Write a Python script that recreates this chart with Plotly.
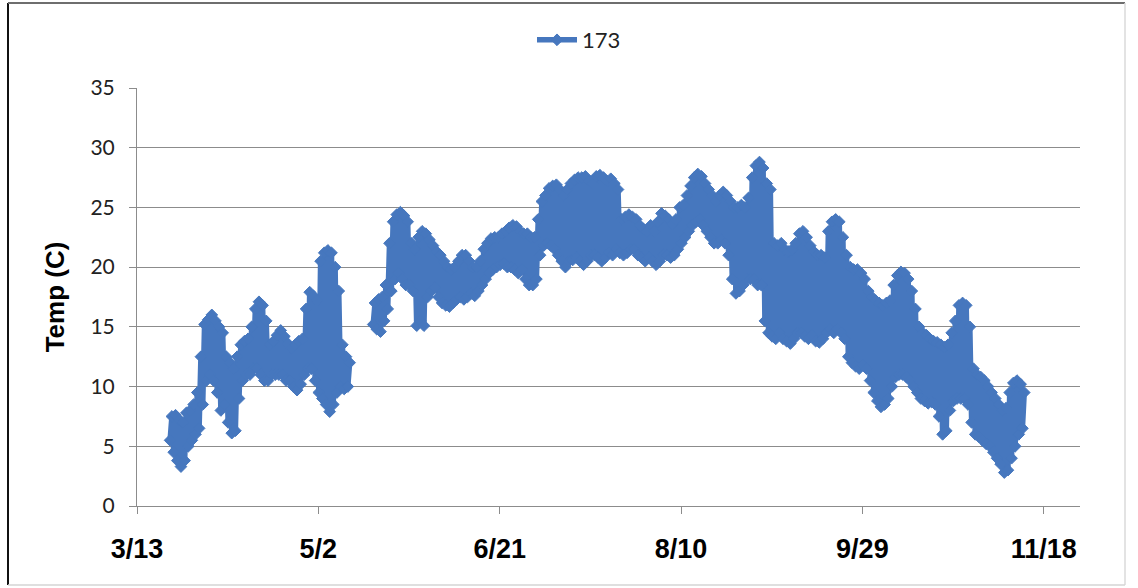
import plotly.graph_objects as go
from datetime import datetime, timedelta

# ---------------------------------------------------------------------------
# Station 173 water temperature: daily minimum / maximum readings (deg C)
# ---------------------------------------------------------------------------
season_start = datetime(2009, 3, 13)

# day numbers (days after 3/13) with recorded data; the logger was out 5/11-5/17
record_day = list(range(9, 59)) + list(range(65, 245))

daily_low = [
    5.5, 4.5, 3.8, 3.3, 3.8, 5.0, 5.5, 6.0, 6.5, 8.5,
    10.5, 11.0, 10.5, 9.5, 8.0, 8.5, 7.0, 6.1, 6.3, 9.0,
    10.5, 11.0, 11.0, 11.5, 11.5, 11.0, 10.5, 10.5, 11.0, 11.0,
    11.0, 11.0, 10.5, 10.5, 10.0, 9.7, 10.2, 11.0, 11.5, 11.5,
    10.5, 9.5, 9.0, 8.5, 7.9, 8.5, 9.5, 10.0, 9.8, 10.0,
    # second deployment
    15.2, 14.8, 14.6, 15.5, 16.5, 18.0, 19.0, 19.5, 19.0, 18.5,
    18.5, 18.0, 15.1, 15.5, 15.1, 17.5, 18.0, 18.3, 17.5, 17.0,
    16.8, 16.7, 17.0, 17.3, 17.5, 17.3, 17.5, 17.8, 17.6, 18.0,
    18.5, 19.0, 19.5, 19.8, 20.0, 20.2, 20.3, 20.0, 20.0, 19.8,
    19.5, 19.8, 19.0, 18.5, 18.5, 19.0, 21.0, 21.8, 22.0, 21.8,
    21.5, 21.0, 20.5, 20.0, 20.5, 20.6, 20.8, 20.5, 20.2, 20.5,
    21.0, 21.0, 20.8, 20.5, 20.8, 21.2, 21.0, 21.5, 21.2, 21.0,
    21.2, 21.5, 21.5, 21.0, 20.8, 20.5, 20.8, 20.5, 20.2, 20.5,
    21.0, 21.0, 20.8, 21.0, 21.5, 22.0, 22.5, 23.0, 23.5, 23.8,
    24.0, 23.5, 23.0, 22.5, 22.0, 22.0, 22.3, 22.0, 21.0, 19.0,
    17.8, 18.0, 18.5, 19.0, 19.0, 19.0, 18.5, 18.5, 15.5, 14.5,
    14.2, 14.0, 14.5, 14.0, 13.8, 13.6, 14.0, 14.5, 14.5, 14.2,
    14.0, 14.3, 13.8, 13.7, 14.0, 14.5, 14.8, 14.5, 14.8, 14.5,
    14.0, 12.5, 12.0, 11.7, 11.5, 11.8, 11.5, 10.5, 9.5, 8.8,
    8.3, 8.5, 9.0, 10.0, 10.8, 11.0, 11.0, 10.8, 10.5, 10.0,
    9.5, 9.0, 8.8, 8.6, 8.7, 8.5, 7.5, 6.0, 6.3, 8.0,
    8.8, 9.0, 9.0, 9.0, 8.5, 7.0, 6.0, 5.8, 5.5, 5.2,
    5.0, 4.5, 4.0, 3.5, 2.8, 3.0, 4.0, 5.0, 6.0, 6.5,
]

daily_high = [
    7.5, 7.6, 7.2, 7.0, 7.8, 8.0, 8.5, 9.5, 12.5, 15.2,
    15.6, 16.0, 15.5, 15.0, 14.5, 12.5, 12.0, 11.5, 12.5, 13.5,
    13.8, 14.0, 15.0, 16.5, 17.1, 16.8, 15.5, 13.5, 13.8, 14.3,
    14.7, 14.2, 13.6, 13.2, 13.5, 13.8, 14.0, 16.5, 17.9, 17.6,
    17.2, 20.5, 21.2, 21.4, 21.2, 20.0, 18.0, 13.5, 12.5, 12.0,
    # second deployment
    17.0, 17.3, 17.5, 18.5, 22.0, 23.8, 24.4, 24.6, 24.3, 23.8,
    22.0, 21.5, 22.5, 23.0, 22.8, 22.3, 21.8, 21.3, 21.0, 20.5,
    20.0, 19.8, 20.0, 20.5, 21.0, 21.0, 20.5, 20.0, 20.0, 20.5,
    21.5, 22.0, 22.4, 22.5, 22.5, 22.8, 23.0, 23.3, 23.5, 23.4,
    23.0, 22.8, 22.8, 22.5, 22.5, 24.0, 25.5, 26.0, 26.6, 26.8,
    26.9, 26.5, 26.0, 26.5, 27.0, 27.3, 27.5, 27.5, 27.6, 27.2,
    27.0, 27.6, 27.7, 27.5, 27.2, 27.4, 27.0, 26.5, 24.0, 24.2,
    24.4, 24.2, 24.0, 23.5, 23.2, 23.0, 23.5, 23.0, 23.8, 24.5,
    24.3, 24.0, 23.6, 24.0, 25.0, 25.2, 26.0, 26.8, 27.5, 27.8,
    27.6, 27.0, 26.5, 26.0, 25.5, 26.0, 26.3, 26.0, 25.5, 25.0,
    25.0, 25.2, 25.0, 25.8, 27.5, 28.5, 28.8, 28.3, 27.0, 26.5,
    22.0, 21.8, 22.0, 21.5, 21.3, 21.5, 22.0, 22.8, 23.0, 22.5,
    21.8, 21.3, 21.0, 21.0, 20.8, 23.0, 23.8, 24.0, 23.8, 22.5,
    21.0, 20.0, 19.8, 19.8, 19.5, 19.0, 18.0, 17.5, 17.2, 17.0,
    16.8, 17.0, 17.2, 18.5, 19.3, 19.6, 19.5, 19.0, 18.0, 16.5,
    15.0, 14.5, 14.3, 14.0, 13.8, 13.7, 13.5, 13.3, 13.5, 14.5,
    15.5, 16.8, 17.0, 16.8, 15.0, 11.5, 11.0, 10.8, 10.5, 10.0,
    9.5, 9.0, 8.5, 8.0, 8.2, 9.5, 10.3, 10.5, 10.2, 9.5,
]

tick_labels = ["3/13", "5/2", "6/21", "8/10", "9/29", "11/18"]
series_name = "173"

# ---------------------------------------------------------------------------
# Build the time series: morning low and afternoon high for each logged day,
# with a break wherever days are missing so the line is not bridged.
# ---------------------------------------------------------------------------
times, temps = [], []
prev = None
for day, lo, hi in zip(record_day, daily_low, daily_high):
    if prev is not None and day - prev > 1:
        times.append(None)
        temps.append(None)
    base = season_start + timedelta(days=day)
    times += [base + timedelta(hours=3), base + timedelta(hours=15)]
    temps += [lo, hi]
    prev = day

BLUE = "#4677BE"
GRID = "#8C8C8C"

fig = go.Figure()
fig.add_trace(go.Scatter(
    x=times, y=temps, name=series_name, mode="lines+markers",
    connectgaps=False,
    line=dict(color=BLUE, width=5.5),
    marker=dict(symbol="diamond", size=9, color=BLUE,
                line=dict(color=BLUE, width=1)),
))

tick_dates = [season_start + timedelta(days=50 * i) for i in range(len(tick_labels))]

# plot area in pixels
L, R, T, B = 137, 58, 88, 82
W, H = 1138, 588
PW, PH = W - L - R, H - T - B


def px(x):
    return (x - L) / PW


def py(y):
    return (H - B - y) / PH


frame = [
    (8, 3, 8, 585, "#111111", 2),
    (8, 3, 1125, 3, "#6E6E6E", 2),
    (1125, 3, 1125, 585, "#DADADA", 1.5),
    (8, 585, 1125, 585, "#D5D5D5", 1.5),
]
shapes = [dict(type="line", xref="paper", yref="paper",
               x0=px(a), y0=py(b), x1=px(c), y1=py(d),
               line=dict(color=col, width=w)) for a, b, c, d, col, w in frame]

fig.update_layout(
    width=W, height=H,
    margin=dict(l=L, r=R, t=T, b=B),
    paper_bgcolor="white", plot_bgcolor="white",
    showlegend=True,
    legend=dict(orientation="h", x=px(532), y=py(40), xanchor="left",
                yanchor="middle", font=dict(family="Lato", size=22, color="#222222"),
                bgcolor="rgba(0,0,0,0)", itemwidth=40),
    shapes=shapes,
    xaxis=dict(
        type="date",
        range=[season_start, season_start + timedelta(days=260)],
        tickmode="array", tickvals=tick_dates, ticktext=tick_labels,
        ticks="outside", ticklen=7, tickcolor=GRID, tickwidth=1,
        showline=True, linecolor=GRID, linewidth=1,
        showgrid=False, zeroline=False,
        ticklabelstandoff=12,
        tickfont=dict(family="Liberation Sans", size=27, color="black",
                      weight="bold"),
    ),
    yaxis=dict(
        range=[0, 35], dtick=5, tick0=0,
        ticks="outside", ticklen=7, tickcolor=GRID, tickwidth=1,
        showline=True, linecolor=GRID, linewidth=1,
        showgrid=True, gridcolor=GRID, gridwidth=1, zeroline=False,
        ticklabelstandoff=10,
        tickfont=dict(family="Lato", size=21, color="#222222"),
        title=dict(text="Temp (C)", standoff=18,
                   font=dict(family="Liberation Sans", size=26, color="black",
                             weight="bold")),
    ),
)

fig.write_html("out.html")
